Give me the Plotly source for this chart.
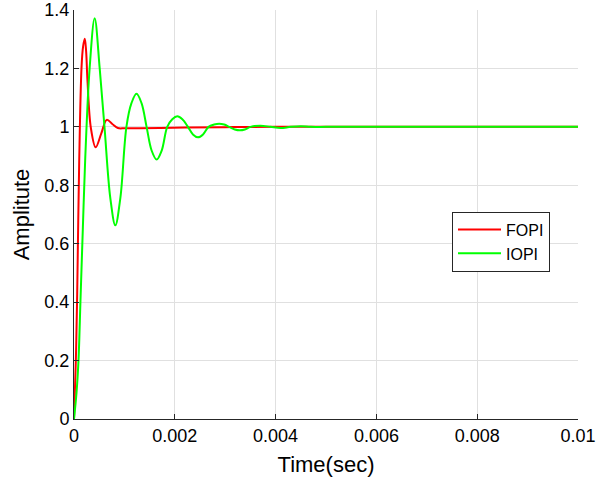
import plotly.graph_objects as go

# FOPI step response
t_fopi = [0, 0.000036, 0.000063, 0.000103, 0.000149, 0.00018, 0.000214, 0.00024,
          0.000268, 0.000334, 0.00043, 0.00054, 0.00065, 0.00076, 0.00087, 0.001,
          0.0013, 0.0017, 0.0022, 0.003, 0.004, 0.006, 0.008, 0.01]
y_fopi = [0, 0.196, 0.425, 0.88, 1.202, 1.275, 1.302, 1.26,
          1.156, 0.997, 0.930, 0.977, 1.024, 1.01, 0.996, 0.995,
          0.995, 0.996, 0.998, 0.999, 1.0, 1.0, 1.0, 1.0]

# IOPI step response
t_iopi = [0, 0.00005, 0.000089, 0.000129, 0.000175, 0.000222, 0.00031, 0.00041,
          0.00051, 0.000605, 0.00072, 0.00082, 0.00092, 0.00104, 0.00114, 0.00124,
          0.00134, 0.00144, 0.00154, 0.00164, 0.00174, 0.00185, 0.00195, 0.00205,
          0.00215, 0.00226, 0.00236, 0.00246, 0.00256, 0.00267, 0.00278, 0.00288,
          0.00298, 0.00308, 0.00319, 0.00329, 0.00339, 0.0035, 0.0037, 0.0039,
          0.0041, 0.0043, 0.0045, 0.0047, 0.005, 0.006, 0.007, 0.008, 0.009, 0.01]
y_iopi = [0, 0.09, 0.2, 0.408, 0.65, 0.888, 1.2, 1.372,
          1.2, 1.0, 0.757, 0.663, 0.757, 1.0, 1.081, 1.113,
          1.081, 1.0, 0.919, 0.888, 0.919, 1.0, 1.026, 1.036,
          1.026, 1.0, 0.974, 0.964, 0.974, 1.0, 1.008, 1.011,
          1.008, 1.0, 0.991, 0.988, 0.991, 1.0, 1.004, 1.0,
          0.996, 1.0, 1.002, 1.0, 1.0, 1.0, 1.0, 1.0, 1.0, 1.0]

x_ticks = [0, 0.002, 0.004, 0.006, 0.008, 0.01]
x_tick_labels = ["0", "0.002", "0.004", "0.006", "0.008", "0.01"]
y_ticks = [0, 0.2, 0.4, 0.6, 0.8, 1, 1.2, 1.4]
y_tick_labels = ["0", "0.2", "0.4", "0.6", "0.8", "1", "1.2", "1.4"]

fig = go.Figure()
fig.add_trace(go.Scatter(x=t_fopi, y=y_fopi, mode="lines", name="FOPI",
                         line=dict(color="#ff0000", width=2, shape="spline", smoothing=1.0)))
fig.add_trace(go.Scatter(x=t_iopi, y=y_iopi, mode="lines", name="IOPI",
                         line=dict(color="#00ff00", width=2, shape="spline", smoothing=1.0)))

font = dict(family="Liberation Sans, Arial, sans-serif", size=18, color="#000000")
fig.update_layout(
    width=616, height=483,
    margin=dict(l=74, r=38, t=10, b=64),
    paper_bgcolor="white", plot_bgcolor="white",
    font=font,
    showlegend=True,
    legend=dict(x=0.75, y=0.507, xanchor="left", yanchor="top",
                bgcolor="white", bordercolor="#262626", borderwidth=1,
                itemwidth=43, tracegroupgap=0,
                font=dict(family="Liberation Sans, Arial, sans-serif", size=16, color="#000000")),
    xaxis=dict(range=[0, 0.01], tickvals=x_ticks, ticktext=x_tick_labels,
               showgrid=True, gridcolor="#e0e0e0", gridwidth=1,
               showline=True, linecolor="#262626", linewidth=1, mirror=False,
               ticks="inside", ticklen=5, tickcolor="#262626", zeroline=False,
               automargin=False,
               title=dict(text="Time(sec)", standoff=12)),
    yaxis=dict(range=[0, 1.4], tickvals=y_ticks, ticktext=y_tick_labels,
               showgrid=True, gridcolor="#e0e0e0", gridwidth=1,
               showline=True, linecolor="#262626", linewidth=1, mirror=False,
               ticks="inside", ticklen=5, tickcolor="#262626", zeroline=False,
               automargin=False,
               title=dict(text="Amplitute", standoff=8)),
)

fig.write_html("out.html")
